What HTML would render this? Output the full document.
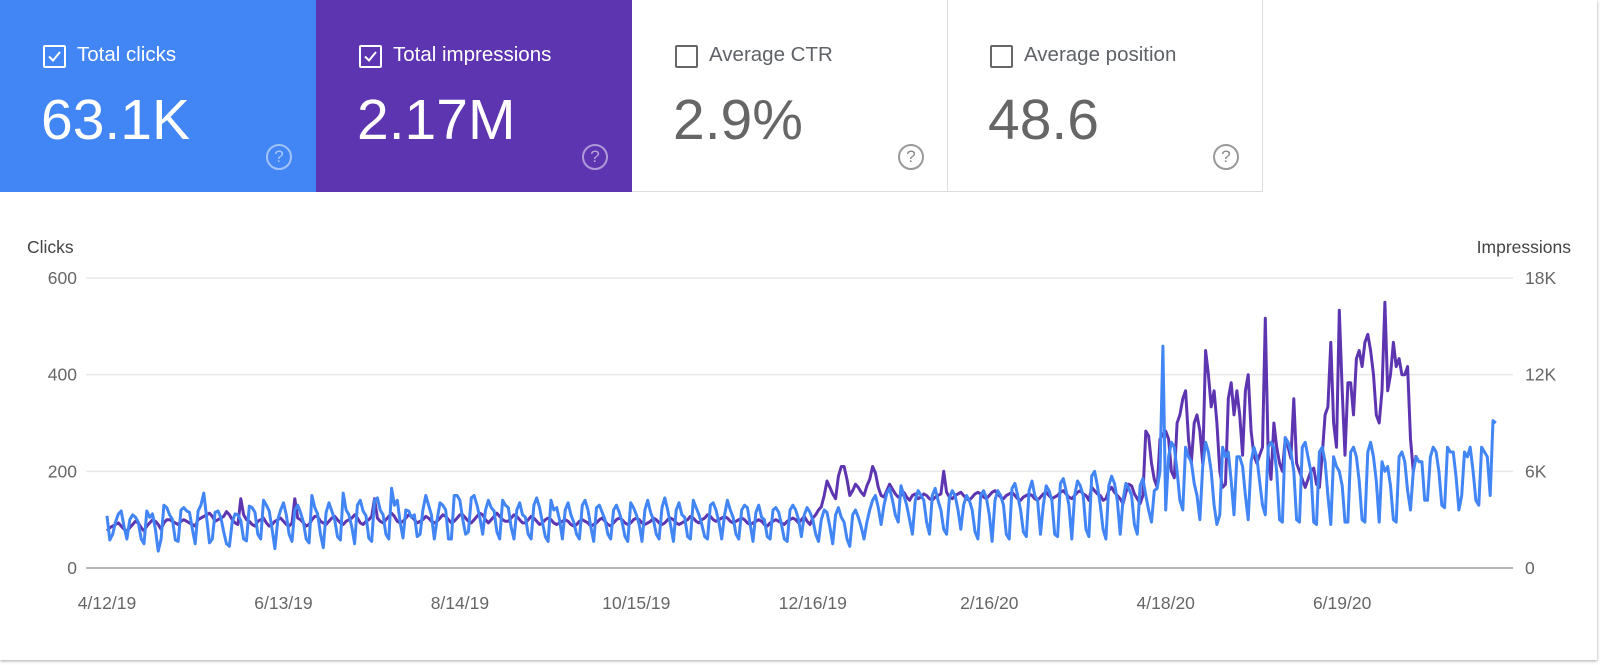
<!DOCTYPE html>
<html><head><meta charset="utf-8">
<style>
body{margin:0;width:1600px;height:665px;background:#fff;font-family:"Liberation Sans",sans-serif;overflow:hidden}
#card{position:absolute;left:0;top:0;width:1597px;height:660px;background:#fff;box-shadow:0 1px 3px rgba(0,0,0,.35)}
.tile{position:absolute;top:0;height:192px;width:316px;box-sizing:border-box}
.t1{left:0;background:#4285f4;color:#fff}
.t2{left:316px;background:#5e35b1;color:#fff}
.t3{left:632px;border-right:1px solid #ddd;border-bottom:1px solid #ddd;color:#5f6368}
.t4{left:947px;border-right:1px solid #ddd;border-bottom:1px solid #ddd;color:#5f6368}
.cb{position:absolute;left:43px;top:45px;width:19px;height:19px;border:2px solid currentColor;border-radius:2px}
.t3 .cb,.t4 .cb{border-color:#666}
.cb svg{position:absolute;left:1px;top:1px}
.lab{position:absolute;left:77px;top:43px;font-size:20.5px;white-space:nowrap}
.num{position:absolute;left:41px;top:87px;font-size:57px;white-space:nowrap}
.t3 .num,.t4 .num{color:#666}
.help{position:absolute;left:266px;top:144px;width:22px;height:22px;border:2px solid rgba(255,255,255,.5);border-radius:50%;color:rgba(255,255,255,.55);font-size:17px;text-align:center;line-height:22px}
.t3 .help,.t4 .help{border-color:#999;color:#888}
svg text{font-family:"Liberation Sans",sans-serif}
</style></head><body>
<div id="card">
<div class="tile t1"><div class="cb"><svg width="17" height="17"><path d="M3 8.5 L7 12.5 L14 4" stroke="#fff" stroke-width="2" fill="none"/></svg></div><div class="lab">Total clicks</div><div class="num">63.1K</div><div class="help">?</div></div>
<div class="tile t2"><div class="cb"><svg width="17" height="17"><path d="M3 8.5 L7 12.5 L14 4" stroke="#fff" stroke-width="2" fill="none"/></svg></div><div class="lab">Total impressions</div><div class="num">2.17M</div><div class="help">?</div></div>
<div class="tile t3"><div class="cb"></div><div class="lab">Average CTR</div><div class="num">2.9%</div><div class="help">?</div></div>
<div class="tile t4"><div class="cb"></div><div class="lab">Average position</div><div class="num">48.6</div><div class="help">?</div></div>
<svg id="chart" width="1600" height="665" style="position:absolute;left:0;top:0"></svg>
</div>
<script>
const clicks=[108,58,70,95,112,118,85,60,100,110,105,95,60,50,118,105,112,80,35,60,130,125,110,100,58,55,120,125,118,115,80,50,118,130,155,105,52,60,115,118,105,75,50,45,95,112,110,98,60,56,128,125,115,70,60,140,130,118,80,40,100,120,135,110,70,55,120,130,115,95,60,52,150,125,112,70,42,115,135,118,100,65,58,155,120,110,85,50,130,140,118,108,62,55,140,145,120,110,70,60,165,130,140,95,62,120,118,105,110,65,70,120,150,130,110,60,100,135,130,120,60,60,150,150,140,100,70,75,145,150,130,105,70,120,140,125,118,75,60,140,130,125,85,60,120,135,110,105,70,60,130,145,125,95,65,55,140,120,125,100,60,120,135,110,95,70,60,130,140,120,85,55,125,130,115,100,70,60,120,130,115,95,65,55,135,125,110,90,55,120,140,115,100,70,60,125,145,120,90,55,120,135,110,105,65,60,140,125,110,90,65,60,130,135,120,95,60,110,140,120,105,70,60,120,130,125,90,55,115,130,105,100,65,60,120,125,115,90,60,55,120,130,120,100,65,110,125,115,100,70,55,100,120,115,85,50,110,125,105,95,60,45,110,120,105,85,60,95,120,140,150,125,90,130,155,165,140,110,95,170,150,130,100,70,140,160,150,140,95,70,150,165,140,120,80,70,145,160,150,120,80,130,150,140,120,75,60,150,160,145,110,55,140,160,150,130,70,60,165,175,150,120,75,65,160,180,150,140,70,130,170,160,140,70,65,175,185,160,130,60,150,180,170,150,80,65,190,200,170,130,80,60,170,190,175,140,70,140,175,165,150,90,70,170,185,150,120,95,160,165,200,459,120,230,260,250,200,140,120,250,230,220,175,150,100,210,260,240,200,130,90,110,250,230,240,180,110,230,230,210,150,100,220,250,230,180,130,110,250,260,250,200,100,95,270,260,240,200,100,95,250,260,230,200,95,90,240,250,220,150,90,230,210,200,170,95,95,240,250,230,180,100,95,240,260,230,180,95,220,200,210,170,100,95,230,240,220,160,120,200,230,220,220,140,140,230,250,240,200,130,125,250,240,240,190,120,150,240,230,250,200,140,130,250,240,230,150,305,300];
const impressions=[2300,2500,2600,2700,2800,2600,2400,2300,2500,2700,2900,2800,2500,2300,2600,2800,3000,2900,2700,2400,2800,3000,3000,2900,2800,2700,2900,3000,2900,2800,2700,2600,3000,3100,3200,3300,3400,3200,2900,3000,3100,3200,3500,3300,3000,2800,2700,4300,3300,3000,2900,2700,2600,2900,3000,3100,2800,2600,2700,2900,3000,3100,2900,2700,2600,2800,4300,3100,3000,2800,2600,2700,3000,3200,3200,2900,2800,2700,2900,3100,3200,3000,2800,2700,2900,3000,3100,3300,3100,2800,2700,2900,3000,3200,4300,3100,2900,2800,3000,3200,3400,3200,2900,2800,2900,3100,3300,3200,3000,2800,2900,3000,3200,3100,2900,2800,2900,3100,3300,3200,3000,2800,2900,3100,3300,3300,3100,2900,2800,3000,3200,3400,3300,3000,2800,3000,3200,3400,3200,3000,2900,2900,3100,3300,3200,3000,2800,2800,3000,3200,3100,2900,2700,2800,3000,3100,3000,2800,2700,2800,2900,3000,2900,2700,2600,2700,2900,3000,2900,2800,2600,2700,2800,3000,3100,2900,2700,2600,2800,3000,3100,3000,2800,2700,2800,3000,3100,3000,2800,2700,2800,2900,3100,3000,2800,2700,2800,3000,3100,3000,2800,2700,2800,2900,3000,3200,3100,2900,2800,3000,3100,3300,3200,3000,2900,3000,3100,3200,3100,2900,2800,2900,3000,3100,3000,2800,2700,2800,2900,3000,2900,2700,2600,2800,2900,3000,2900,2800,2700,2900,3000,3100,3000,2800,3000,3200,2900,2700,3100,3300,3600,3800,4500,5400,5000,4600,4300,5700,6300,6300,5500,4500,4800,5200,5000,4700,4500,5100,5500,6300,5900,5000,4500,4400,4800,5200,4900,4600,4400,4500,4700,4400,4200,4500,4600,4300,4400,4600,4500,4300,4200,4400,4500,4600,6000,4700,4400,4300,4500,4600,4700,4500,4300,4200,4400,4600,4700,4600,4400,4300,4500,4700,4800,4600,4400,4300,4500,4600,4700,4500,4300,4200,4400,4500,4600,4500,4300,4200,4400,4600,4700,4500,4300,4400,4500,4700,4800,4600,4400,4300,4500,4700,4800,4600,4500,4200,5000,4800,4600,4500,4200,4300,4800,5000,4700,4500,4300,4000,4700,5200,5100,4600,4300,4000,4500,8500,8200,6500,5500,5000,8000,8300,8500,8000,6000,5600,9000,9500,10500,11000,8000,6500,9000,9500,8500,6500,13500,12000,10000,11000,9000,6000,5000,5200,10500,11500,9500,11000,9500,7000,11000,12000,8500,7000,6500,7000,7500,15500,7000,5500,9000,7500,6500,6000,8000,7500,6800,10500,6500,6000,5500,5000,5500,6000,6200,5200,5000,7000,9500,10000,14000,9000,7500,16000,11000,7000,11500,11500,9500,13000,13500,12500,14000,14500,13500,12000,9500,9000,11000,16500,11000,12000,14000,12500,13000,12000,12000,12500,8000,6000,7000];
const clickTicks=[0,200,400,600];
const impTicks=["0","6K","12K","18K"];
const impTickVals=[0,6000,12000,18000];
const xLabels=["4/12/19","6/13/19","8/14/19","10/15/19","12/16/19","2/16/20","4/18/20","6/19/20"];
const xLabelDays=[0,62,124,186,248,310,372,434];

const NS="http://www.w3.org/2000/svg";
const svg=document.getElementById('chart');
const X0=107,PXDAY=2.846,Y0=568,Y1=278;
function x(d){return X0+d*PXDAY;}
function yC(v){return Y0-(v/600)*(Y0-Y1);}
function yI(v){return Y0-(v/18000)*(Y0-Y1);}
function mk(tag,attrs){const e=document.createElementNS(NS,tag);for(const k in attrs)e.setAttribute(k,attrs[k]);svg.appendChild(e);return e;}

let t=mk('text',{x:27,y:253,'font-size':17.5,fill:'#444'});t.textContent='Clicks';


t=mk('text',{x:1571,y:253,'font-size':17.5,fill:'#444','text-anchor':'end'});t.textContent='Impressions';



clickTicks.forEach((v,i)=>{
  const yy=yC(v);
  const g=mk('line',{x1:86,x2:1513,y1:yy,y2:yy,stroke:v===0?'#9e9e9e':'#e8e8e8','stroke-width':1.5});
  
  
  const l=mk('text',{x:77,y:yy+6,'font-size':17.5,fill:'#666','text-anchor':'end'});l.textContent=v;
  
  
});
impTickVals.forEach((v,i)=>{
  const r=mk('text',{x:1525,y:yI(v)+6,'font-size':17.5,fill:'#666'});r.textContent=impTicks[i];
  
  
});
xLabels.forEach((s,i)=>{
  const l=mk('text',{x:x(xLabelDays[i]),y:609,'font-size':17.5,fill:'#666','text-anchor':'middle'});l.textContent=s;
  
  
});
function line(arr,fy,color,name){
  const d=arr.map((v,i)=>(i?'L':'M')+x(i).toFixed(1)+' '+fy(v).toFixed(1)).join(' ');
  const p=mk('path',{d:d,fill:'none',stroke:color,'stroke-width':3,'stroke-linejoin':'round'});
  
  
}
line(impressions,yI,'#5e35b1','impressions-line');
line(clicks,yC,'#4285f4','clicks-line');
</script>
</body></html>
